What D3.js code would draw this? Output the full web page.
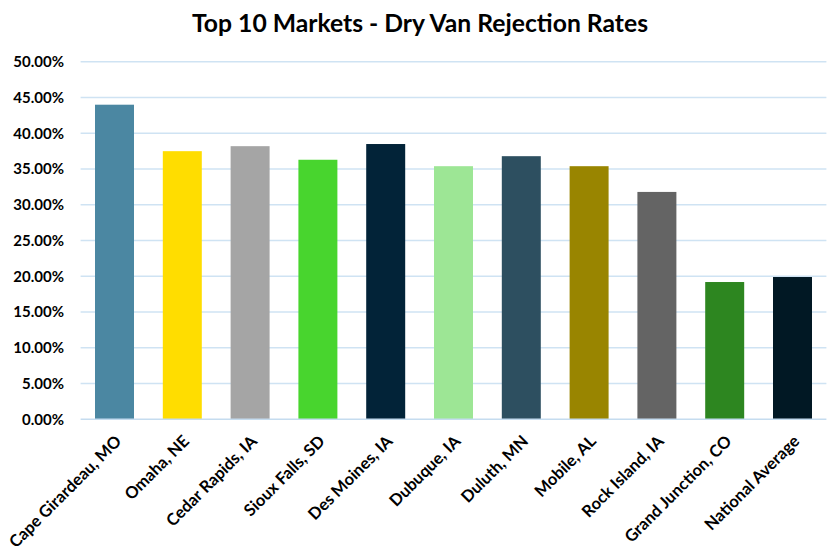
<!DOCTYPE html>
<html><head><meta charset="utf-8">
<script src="https://cdn.jsdelivr.net/npm/d3@7/dist/d3.min.js"></script>
<style>body{margin:0;background:#fff}svg{display:block}text{font-family:Lato,"Open Sans",sans-serif;font-weight:700;fill:#000}</style>
</head><body><svg id="c" width="839" height="555"></svg>
<script>
const categories = ["Cape Girardeau, MO","Omaha, NE","Cedar Rapids, IA","Sioux Falls, SD","Des Moines, IA","Dubuque, IA","Duluth, MN","Mobile, AL","Rock Island, IA","Grand Junction, CO","National Average"];
const values = [0.440,0.375,0.382,0.363,0.385,0.354,0.368,0.354,0.318,0.192,0.199];
const colors = ["#4B87A2","#FFDD00","#A5A5A5","#48D52E","#022338","#9DE695","#2D4F60","#998500","#646464","#2D8620","#011824"];
const yTicks = [0,0.05,0.10,0.15,0.20,0.25,0.30,0.35,0.40,0.45,0.50];
const title = "Top 10 Markets - Dry Van Rejection Rates";

const svg = d3.select("#c");
const x = d3.scaleBand().domain(categories).range([80.6,826.4]).paddingInner(0.425).paddingOuter(0.2125);
const y = d3.scaleLinear().domain([0,0.5]).range([419.3,61.8]);

// gridlines
svg.append("g").selectAll("line").data(yTicks.filter(d=>d>0)).join("line")
  .attr("x1",80.6).attr("x2",826.4).attr("y1",d=>y(d)).attr("y2",d=>y(d))
  .attr("stroke","#CFE3F3").attr("stroke-width",1.4);

// bars
svg.append("g").selectAll("rect").data(values).join("rect")
  .attr("x",(d,i)=>x(categories[i])).attr("width",x.bandwidth())
  .attr("y",d=>y(d)).attr("height",d=>y(0)-y(d))
  .attr("fill",(d,i)=>colors[i]);

// baseline axis
svg.append("line").attr("x1",80.6).attr("x2",826.4).attr("y1",y(0)).attr("y2",y(0))
  .attr("stroke","#C5DCEF").attr("stroke-width",1.4);

// y axis labels
const fmt = d3.format(".2%");
svg.append("g").selectAll("text").data(yTicks).join("text")
  .attr("x",64).attr("y",d=>y(d)).attr("dy","0.36em")
  .attr("text-anchor","end").style("font-size","15px").text(d=>fmt(d));

// x labels
svg.append("g").selectAll("text").data(categories).join("text")
  .attr("text-anchor","end").style("font-size","16.5px")
  .attr("transform",d=>`translate(${x(d)+x.bandwidth()/2+8},${y(0)+23}) rotate(-45)`)
  .text(d=>d);

// title
const t = svg.append("text").attr("x",420).attr("y",32).attr("text-anchor","middle")
  .style("font-size","24px").text(title);
const w = t.node().getComputedTextLength();
t.style("font-size",(24*456/w).toFixed(2)+"px");
</script></body></html>
